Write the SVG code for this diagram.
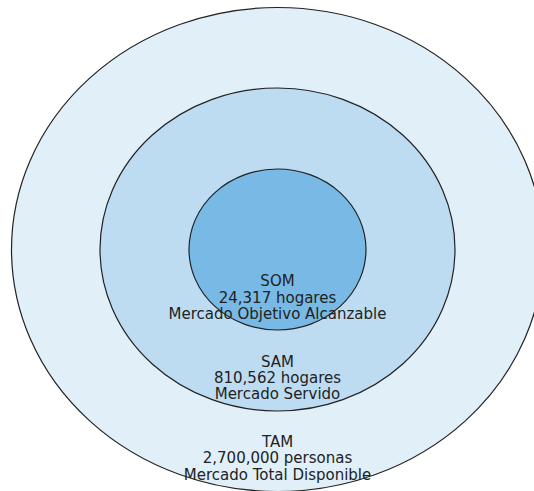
<svg xmlns="http://www.w3.org/2000/svg" width="534" height="491" viewBox="0 0 534 491">
<style>
.ring{stroke:#222;stroke-width:1.2}
.lbl{font-family:"DejaVu Sans",sans-serif;font-size:15px;fill:#222;text-anchor:middle}
</style>
<rect width="534" height="491" fill="#fff"/>
<g id="tam"><ellipse class="ring" cx="277.5" cy="249.5" rx="266" ry="242" fill="#e1eff9"/></g>
<g id="sam"><ellipse class="ring" cx="277.5" cy="249.5" rx="177.5" ry="161.5" fill="#bddcf2"/></g>
<g id="som"><ellipse class="ring" cx="277.5" cy="249.5" rx="88.5" ry="80.5" fill="#78b9e6"/></g>
<g id="connectors"></g>
<g id="labels">
<text class="lbl" x="277.5" y="286.3">SOM</text>
<text class="lbl" x="277.5" y="302.6">24,317 hogares</text>
<text class="lbl" x="277.5" y="318.9">Mercado Objetivo Alcanzable</text>
<text class="lbl" x="277.5" y="366.5">SAM</text>
<text class="lbl" x="277.5" y="382.8">810,562 hogares</text>
<text class="lbl" x="277.5" y="399.1">Mercado Servido</text>
<text class="lbl" x="277.5" y="447">TAM</text>
<text class="lbl" x="277.5" y="463.3">2,700,000 personas</text>
<text class="lbl" x="277.5" y="479.6">Mercado Total Disponible</text>
</g>
</svg>
